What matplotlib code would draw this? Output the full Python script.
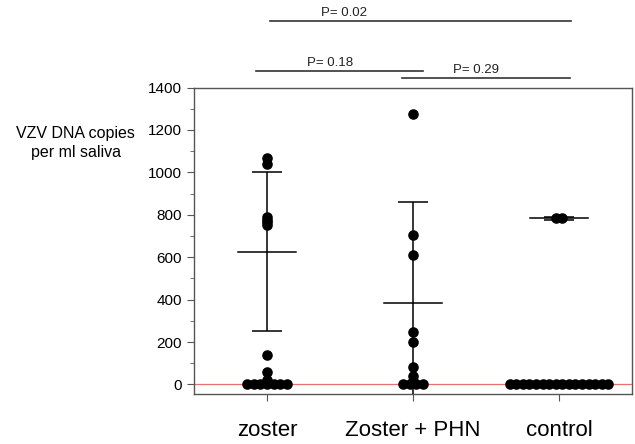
import matplotlib
matplotlib.use("Agg")
import matplotlib.pyplot as plt
import matplotlib.transforms as mtransforms
import numpy as np

plt.rcParams.update({
    "font.family": ["Liberation Sans", "DejaVu Sans"],
    "font.size": 10,
})

# ── Data ─────────────────────────────────────────────────────────────────────
groups = ["zoster", "Zoster + PHN", "control"]
zoster = [0, 0, 0, 0, 0, 0, 0, 20, 60, 140, 750, 765, 775, 790, 1040, 1070]
zoster_phn = [0, 0, 0, 0, 18, 42, 82, 200, 245, 610, 705, 1275]
control = [0] * 16 + [783, 783]
series = [zoster, zoster_phn, control]

means = [625, 382, 783]
sds = [375, 477, 8]

# significance brackets: text, line start/end (category units), line y, text x, text y (figure)
p_texts = ["P= 0.02", "P= 0.18", "P= 0.29"]
p_x0 = [0.02, -0.075, 0.925]
p_x1 = [2.08, 1.07, 2.075]
p_line_y = [0.953, 0.840, 0.824]
p_text_x = [0.53, 0.43, 1.43]
p_text_y = [0.971, 0.858, 0.842]

# ── Figure ───────────────────────────────────────────────────────────────────
fig = plt.figure(figsize=(6.35, 4.44), dpi=100)
ax = fig.add_axes([0.3055, 0.1126, 0.6898, 0.6903])

step = 0.045
for i, vals in enumerate(series):
    vals = np.asarray(vals, dtype=float)
    xs = np.full(len(vals), float(i))
    for v in np.unique(vals):
        idx = np.where(vals == v)[0]
        n = len(idx)
        xs[idx] = i + (np.arange(n) - (n - 1) / 2) * step
    ax.plot(xs, vals, "o", color="black", markersize=6.6, zorder=4, clip_on=False)

    # mean and SD
    ax.plot([i - 0.2, i + 0.2], [means[i], means[i]], color="black", lw=1.1, zorder=3)
    ax.errorbar(i, means[i], yerr=sds[i], fmt="none", ecolor="black",
                elinewidth=1.1, capsize=10.5, capthick=1.1, zorder=3)

ax.axhline(0, color="#e87070", lw=0.9, zorder=2)

ax.set_xlim(-0.5, 2.5)
ax.set_ylim(-45, 1400)
ax.set_xticks(range(len(groups)))
ax.set_xticklabels(groups, fontsize=16)
ax.set_yticks(np.arange(0, 1401, 200))
ax.set_yticks(np.arange(0, 1401, 100), minor=True)
ax.tick_params(axis="y", which="major", length=5, labelsize=11, color="#555555")
ax.tick_params(axis="y", which="minor", length=3, color="#555555")
ax.tick_params(axis="x", length=5, pad=14, color="#555555")
for s in ax.spines.values():
    s.set_color("#555555")
    s.set_linewidth(1.0)

fig.text(0.119, 0.678, "VZV DNA copies\nper ml saliva", ha="center", va="center",
         fontsize=11.5, linespacing=1.4)

# significance brackets
trans = mtransforms.blended_transform_factory(ax.transData, fig.transFigure)
for t, x0, x1, ly, tx, ty in zip(p_texts, p_x0, p_x1, p_line_y, p_text_x, p_text_y):
    ax.plot([x0, x1], [ly, ly], color="#333333", lw=1.2, transform=trans, clip_on=False)
    ax.text(tx, ty, t, transform=trans, ha="center", va="center", fontsize=9.5,
            color="#222222")

fig.savefig("out.png", dpi=100, facecolor="white")
